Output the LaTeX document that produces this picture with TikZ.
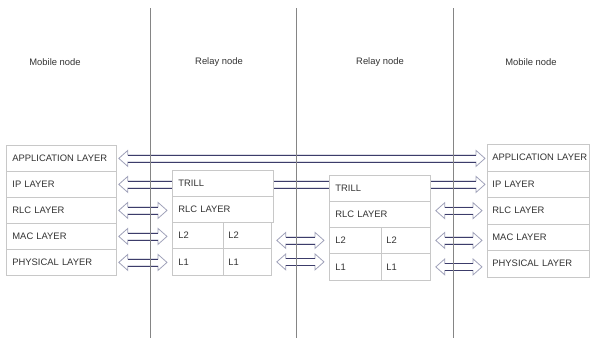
\documentclass[tikz,border=0pt]{standalone}
\usepackage{fontspec}
\setmainfont{Liberation Sans}
\usetikzlibrary{calc}
\definecolor{boxc}{HTML}{C8C8C8}
\definecolor{txtc}{HTML}{333333}
\definecolor{headc}{HTML}{A0A2BA}
\definecolor{shaftc}{HTML}{3C3C6A}
\definecolor{vlinec}{HTML}{858585}
\pgfdeclarelayer{bg}\pgfdeclarelayer{arrows}\pgfsetlayers{bg,arrows,main}
\newcommand\biarrow[2]{%
  \path let \p1=#1, \p2=#2 in [fill=white,draw=headc,line width=0.8pt,line join=miter]
    (\x1,\y1) -- (\x1+9pt,\y1+8pt) -- (\x1+9pt,\y1+3.5pt) -- (\x2-9pt,\y1+3.5pt) -- (\x2-9pt,\y1+8pt)
    -- (\x2,\y1) -- (\x2-9pt,\y1-8pt) -- (\x2-9pt,\y1-3.5pt) -- (\x1+9pt,\y1-3.5pt) -- (\x1+9pt,\y1-8pt) -- cycle;
  \path let \p1=#1, \p2=#2 in [draw=shaftc,line width=0.8pt]
    (\x1+9pt,\y1+3.5pt) -- (\x2-9pt,\y1+3.5pt) (\x1+9pt,\y1-3.5pt) -- (\x2-9pt,\y1-3.5pt);}
\begin{document}
\begin{tikzpicture}[x=1pt,y=-1pt,
  cell/.style={draw=boxc, fill=white, line width=0.8pt, anchor=north west,
    inner xsep=6pt, inner ysep=0pt, align=left, text width=#1,
    font=\fontsize{9.4}{11}\selectfont, text=txtc},
  lbl/.style={font=\fontsize{9.4}{11}\selectfont, text=txtc, inner sep=0pt},
  vline/.style={draw=vlinec, line width=0.8pt}]
\useasboundingbox (0,0) rectangle (592,338);
\begin{pgfonlayer}{bg}
\fill[white] (0,0) rectangle (592,338);
\end{pgfonlayer}
% labels
\node[lbl] (m1) at (55,62) {Mobile node};
\node[lbl] (r1) at (219,62) {Relay node};
\node[lbl] (r2) at (380,62) {Relay node};
\node[lbl] (m2) at (531,62) {Mobile node};
% left stack
\node[cell=98pt, minimum height=26pt] (Lapp) at (6,145) {\mbox{APPLICATION LAYER}};
\node[cell=98pt, minimum height=26pt] (Lip) at (6,171) {IP LAYER};
\node[cell=98pt, minimum height=26pt] (Lrlc) at (6,197) {RLC LAYER};
\node[cell=98pt, minimum height=26pt] (Lmac) at (6,223) {MAC LAYER};
\node[cell=98pt, minimum height=26pt] (Lphy) at (6,249) {PHYSICAL LAYER};
% right stack
\node[cell=92pt, minimum height=26.5pt, inner xsep=5pt] (Rapp) at (487,144) {\mbox{APPLICATION LAYER}};
\node[cell=92pt, minimum height=26.5pt, inner xsep=5pt] (Rip) at (487,170.5) {IP LAYER};
\node[cell=92pt, minimum height=26.5pt, inner xsep=5pt] (Rrlc) at (487,197) {RLC LAYER};
\node[cell=92pt, minimum height=26.5pt, inner xsep=5pt] (Rmac) at (487,223.5) {MAC LAYER};
\node[cell=92pt, minimum height=26.5pt, inner xsep=5pt] (Rphy) at (487,250) {PHYSICAL LAYER};
% relay 1
\node[cell=89pt, minimum height=26pt] (atrill) at (172,170) {TRILL};
\node[cell=89pt, minimum height=26pt] (arlc) at (172,196) {RLC LAYER};
\node[cell=39pt, minimum height=26pt] (al2a) at (172,222) {L2};
\node[cell=38pt, minimum height=26pt, inner xsep=5pt] (al2b) at (223,222) {L2};
\node[cell=39pt, minimum height=27pt] (al1a) at (172,248) {L1};
\node[cell=38pt, minimum height=27pt, inner xsep=5pt] (al1b) at (223,248) {L1};
% relay 2
\node[cell=89pt, minimum height=26pt] (btrill) at (329,175) {TRILL};
\node[cell=89pt, minimum height=26pt] (brlc) at (329,201) {RLC LAYER};
\node[cell=40pt, minimum height=26pt] (bl2a) at (329,227) {L2};
\node[cell=39pt, minimum height=26pt, inner xsep=5pt] (bl2b) at (381,227) {L2};
\node[cell=40pt, minimum height=27pt] (bl1a) at (329,253) {L1};
\node[cell=39pt, minimum height=27pt, inner xsep=5pt] (bl1b) at (381,253) {L1};
% arrows
\begin{pgfonlayer}{arrows}
\biarrow{([xshift=2pt]Lapp.east)}{([xshift=-2pt]Rapp.west)}
\biarrow{([xshift=2pt]Lip.east)}{([xshift=-2pt]Rip.west)}
\biarrow{([xshift=2pt]Lrlc.east)}{([xshift=-5pt]arlc.west)}
\biarrow{([xshift=2pt]Lmac.east)}{([xshift=-5pt]al2a.west)}
\biarrow{([xshift=2pt]Lphy.east)}{([xshift=-5pt]al1a.west)}
\biarrow{($(al2b.east |- bl2a.west)+(5,0)$)}{([xshift=-5pt]bl2a.west)}
\biarrow{([xshift=5pt]al1b.east)}{([xshift=-5pt]bl1a.west)}
\biarrow{($(brlc.east |- Rrlc.west)+(5,0)$)}{([xshift=-5pt]Rrlc.west)}
\biarrow{([xshift=5pt]bl2b.east)}{([xshift=-5pt]Rmac.west)}
\biarrow{([xshift=5pt]bl1b.east)}{([xshift=-5pt]Rphy.west)}
\end{pgfonlayer}
% vertical lines
\coordinate (v1t) at (150,8); \coordinate (v1b) at (150,338);
\coordinate (v2t) at (296,8); \coordinate (v2b) at (296,338);
\coordinate (v3t) at (453,8); \coordinate (v3b) at (453,338);
\draw[vline] (v1t) -- (v1b);
\draw[vline] (v2t) -- (v2b);
\draw[vline] (v3t) -- (v3b);
\end{tikzpicture}
\end{document}
